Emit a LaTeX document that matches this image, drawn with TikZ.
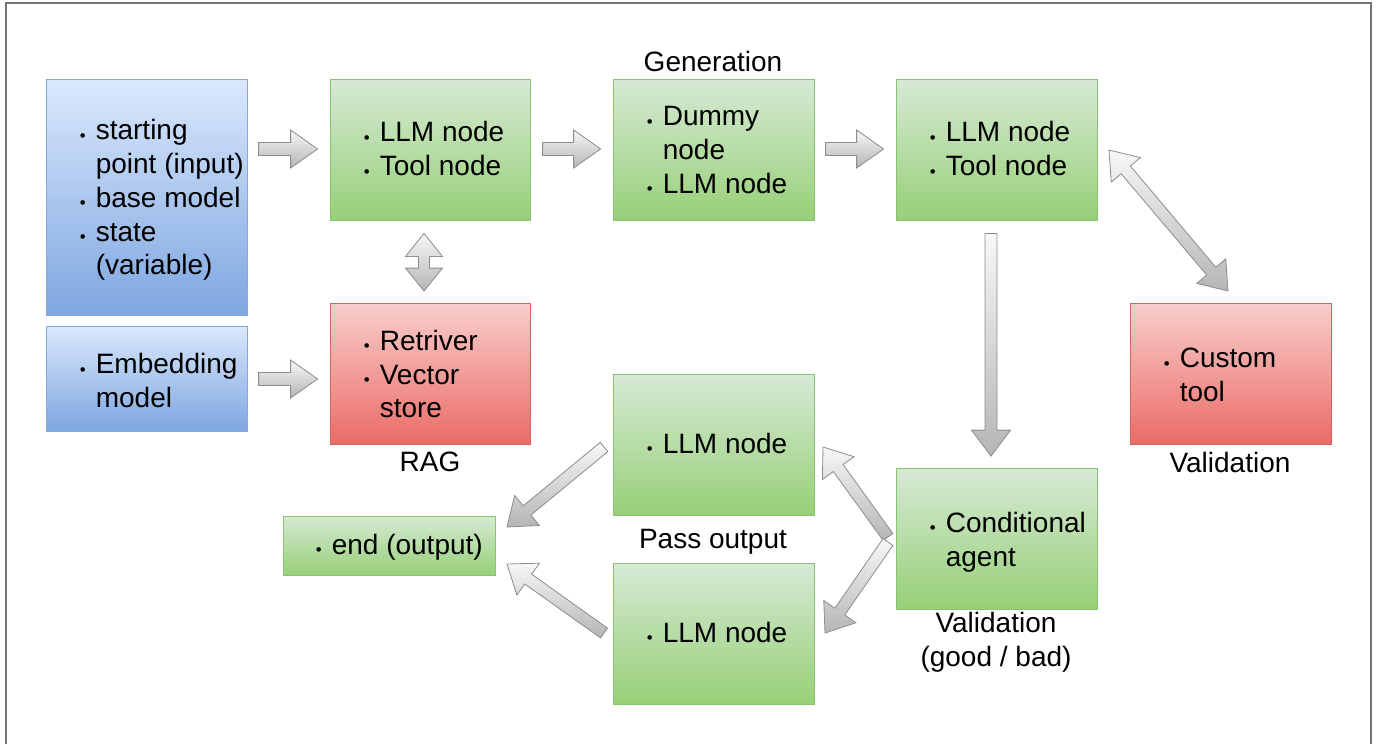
\documentclass[tikz,border=0pt]{standalone}
\usepackage{fontspec}
\setmainfont{Liberation Sans}
\usetikzlibrary{calc}
\definecolor{blueT}{RGB}{218,232,252}
\definecolor{blueB}{RGB}{126,166,224}
\definecolor{blueD}{RGB}{135,168,220}
\definecolor{greenT}{RGB}{214,233,213}
\definecolor{greenB}{RGB}{151,208,119}
\definecolor{greenD}{RGB}{135,196,112}
\definecolor{redT}{RGB}{248,206,204}
\definecolor{redB}{RGB}{234,107,102}
\definecolor{redD}{RGB}{214,98,94}
\definecolor{frameC}{RGB}{115,115,115}
\definecolor{arrD}{RGB}{140,140,140}
\newcommand\bul{\leavevmode\llap{\raisebox{-1.5pt}{\scalebox{0.6}{\textbullet}}\hspace{10pt}}}
\newcommand\sarrow[5]{%
  \coordinate (tmpH) at ($(#2)!#5!(#1)$);
  \path[blk] ($(#1)!#3!90:(#2)$) -- ($(tmpH)!#3!90:(#2)$) -- ($(tmpH)!#4!90:(#2)$) -- (#2)
    -- ($(tmpH)!#4!-90:(#2)$) -- ($(tmpH)!#3!-90:(#2)$) -- ($(#1)!#3!-90:(#2)$) -- cycle;}
\newcommand\darrow[5]{%
  \coordinate (tmpHa) at ($(#1)!#5!(#2)$);
  \coordinate (tmpHb) at ($(#2)!#5!(#1)$);
  \path[blk] (#1) -- ($(tmpHa)!#4!90:(#2)$) -- ($(tmpHa)!#3!90:(#2)$) -- ($(tmpHb)!#3!90:(#2)$)
    -- ($(tmpHb)!#4!90:(#2)$) -- (#2) -- ($(tmpHb)!#4!-90:(#2)$) -- ($(tmpHb)!#3!-90:(#2)$)
    -- ($(tmpHa)!#3!-90:(#2)$) -- ($(tmpHa)!#4!-90:(#2)$) -- cycle;}
\tikzset{
  blk/.style={draw=arrD, line width=0.8pt, top color=gray!6, bottom color=gray!58},
  box/.style={rectangle, inner sep=0pt, line width=0.8pt, minimum width=201pt, minimum height=141pt},
  bluebox/.style={box, draw=blueD, top color=blueT, bottom color=blueB},
  greenbox/.style={box, draw=greenD, top color=greenT, bottom color=greenB},
  redbox/.style={box, draw=redD, top color=redT, bottom color=redB},
  txt/.style={anchor=west, inner sep=0pt, align=left, font=\fontsize{28}{33.8}\selectfont},
  lbl/.style={inner sep=0pt, align=center, font=\fontsize{28}{33.8}\selectfont}
}
\begin{document}
\begin{tikzpicture}[x=1pt, y=-1pt]
\useasboundingbox (0,0) rectangle (1378,744);
\draw[frameC, line width=2pt] (6,744) -- (6,3) -- (1371,3) -- (1371,744);

% boxes
\node[bluebox, minimum height=236pt] (b1) at (146.5,197) {};
\node[bluebox, minimum height=105pt] (b2) at (146.5,378.5) {};
\node[greenbox, minimum width=200pt] (g1) at (430,149.5) {};
\node[greenbox] (g2) at (713.5,149.5) {};
\node[greenbox] (g3) at (996.5,149.5) {};
\node[redbox, minimum width=200pt] (r1) at (430,374) {};
\node[redbox] (r2) at (1230.5,374) {};
\node[greenbox] (l1) at (713.5,445) {};
\node[greenbox] (l2) at (713.5,634) {};
\node[greenbox] (ca) at (996.5,539) {};
\node[greenbox, minimum width=212pt, minimum height=59pt] (en) at (389,545.5) {};

% texts
\node[txt] (b1t) at ($(b1.west)+(50,3)$) {\bul starting\\point (input)\\\bul base model\\\bul state\\(variable)};
\node[txt] (b2t) at ($(b2.west)+(50,2)$) {\bul Embedding\\model};
\node[txt] (g1t) at ($(g1.west)+(50,0)$) {\bul LLM node\\\bul Tool node};
\node[txt] (g2t) at ($(g2.west)+(50,1)$) {\bul Dummy\\node\\\bul LLM node};
\node[txt] (g3t) at ($(g3.west)+(50,0)$) {\bul LLM node\\\bul Tool node};
\node[txt] (r1t) at ($(r1.west)+(50,0)$) {\bul Retriver\\\bul Vector\\store};
\node[txt] (r2t) at ($(r2.west)+(50,1)$) {\bul Custom\\tool};
\node[txt] (l1t) at ($(l1.west)+(50,-1)$) {\bul LLM node};
\node[txt] (l2t) at ($(l2.west)+(50,-1)$) {\bul LLM node};
\node[txt] (cat) at ($(ca.west)+(50,3)$) {\bul Conditional\\agent};
\node[txt] (ent) at ($(en.west)+(49,1.5)$) {\bul end (output)};

% labels
\node[lbl] (genl) at (713,61) {Generation};
\node[lbl] (ragl) at (430,462) {RAG};
\node[lbl] (vall) at (1230,462) {Validation};
\node[lbl] (passl) at (713,542) {Pass output};
\node[lbl] (cval) at (996,642.5) {Validation\\(good / bad)};

% arrow end points
\coordinate (h1a) at ($(g1.west)+(-71,-0.5)$);
\coordinate (h1b) at ($(g1.west)+(-12,-0.5)$);
\coordinate (h2a) at ($(g2.west)+(-70,-0.5)$);
\coordinate (h2b) at ($(g2.west)+(-12,-0.5)$);
\coordinate (h3a) at ($(g3.west)+(-70,-0.5)$);
\coordinate (h3b) at ($(g3.west)+(-12,-0.5)$);
\coordinate (h4a) at ($(r1.west)+(-71,5)$);
\coordinate (h4b) at ($(r1.west)+(-12,5)$);
\coordinate (v1a) at ($(g1.south)+(-6,13)$);
\coordinate (v1b) at ($(r1.north)+(-6,-12)$);
\coordinate (d1a) at ($(g3.south)+(-5.5,13)$);
\coordinate (d1b) at ($(ca.north)+(-5.5,-12)$);
\coordinate (x1a) at (1109,150);
\coordinate (x1b) at (1228,291);
\coordinate (p1a) at (604,447);
\coordinate (p1b) at (507,527);
\coordinate (p2a) at (604,633);
\coordinate (p2b) at (507,564);
\coordinate (c1a) at (888,537);
\coordinate (c1b) at (823,447);
\coordinate (c2a) at (888,542);
\coordinate (c2b) at (825,633);

% block arrows
\sarrow{h1a}{h1b}{6.5pt}{19pt}{27pt}
\sarrow{h2a}{h2b}{6.5pt}{19pt}{27pt}
\sarrow{h3a}{h3b}{6.5pt}{19pt}{27pt}
\sarrow{h4a}{h4b}{6.5pt}{19pt}{27pt}
\darrow{v1a}{v1b}{5.5pt}{18.5pt}{23pt}
\sarrow{d1a}{d1b}{6pt}{19.5pt}{26pt}
\darrow{x1a}{x1b}{6pt}{19pt}{26pt}
\sarrow{p1a}{p1b}{6pt}{19.5pt}{26pt}
\sarrow{p2a}{p2b}{6pt}{19.5pt}{26pt}
\sarrow{c1a}{c1b}{6pt}{19.5pt}{26pt}
\sarrow{c2a}{c2b}{6pt}{19.5pt}{26pt}
\end{tikzpicture}
\end{document}
